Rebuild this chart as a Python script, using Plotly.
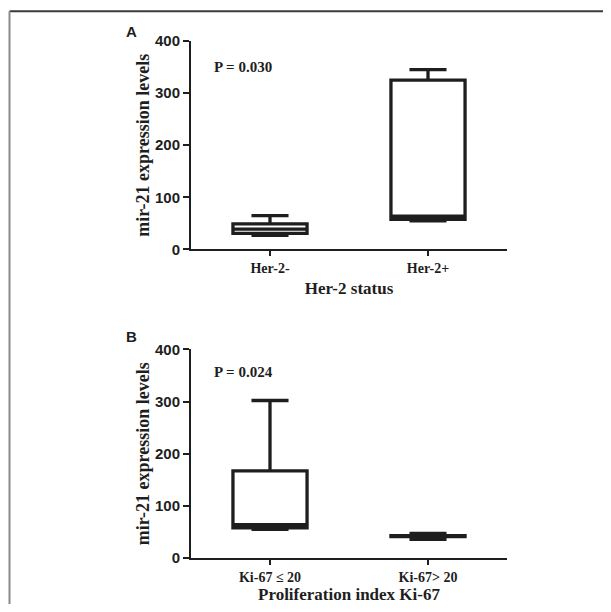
import plotly.graph_objects as go

# ---- data ----
her2_categories = ["Her-2-", "Her-2+"]
her2_lower = [27, 55]
her2_q1 = [31, 58]
her2_median = [39, 64]
her2_q3 = [49, 325]
her2_upper = [65, 345]

ki67_categories = ["Ki-67 \u2264 20", "Ki-67> 20"]
ki67_lower = [55, 36]
ki67_q1 = [58, 41]
ki67_median = [64, 42]
ki67_q3 = [167, 43]
ki67_upper = [302, 47]

y_ticks = [0, 100, 200, 300, 400]
p_values = ["P = 0.030", "P = 0.024"]
panel_labels = ["A", "B"]
x_titles = ["Her-2 status", "Proliferation index Ki-67"]
y_title = "mir-21 expression levels"

# ---- layout geometry (page pixels; the page body has an 8px margin) ----
OFF = 8
W, H = 611 - 2 * OFF, 612 - 2 * OFF
PLOT_L, PLOT_R = 191, 507          # page px of x-axis extent
A_TOP, A_BOT = 40.7, 249.3         # page px of panel A y-range
B_TOP, B_BOT = 349.3, 558.0        # page px of panel B y-range
ML = PLOT_L - OFF
MR = W - (PLOT_R - OFF)
MT = A_TOP - OFF
MB = H - (B_BOT - OFF)
PH = H - MT - MB
PW = W - ML - MR
PANEL_H = A_BOT - A_TOP


def yfrac(py):
    return min(1.0, max(0.0, (B_BOT - py) / PH))


def yfrac_free(py):
    return (B_BOT - py) / PH


def xfrac(px):
    return (px - PLOT_L) / PW


ink = "#1e1e1e"
serif = "Liberation Serif, Times New Roman, serif"
sans = "Liberation Sans, Arial, sans-serif"

fig = go.Figure()

box_style = dict(
    line=dict(color=ink, width=3.3),
    fillcolor="white",
    whiskerwidth=0.5,
    boxpoints=False,
    showlegend=False,
    hoverinfo="skip",
)

fig.add_trace(go.Box(
    x=her2_categories, q1=her2_q1, median=her2_median, q3=her2_q3,
    lowerfence=her2_lower, upperfence=her2_upper,
    xaxis="x", yaxis="y", **box_style))
fig.add_trace(go.Box(
    x=ki67_categories, q1=ki67_q1, median=ki67_median, q3=ki67_q3,
    lowerfence=ki67_lower, upperfence=ki67_upper,
    xaxis="x2", yaxis="y2", **box_style))

yA = [yfrac(A_BOT), yfrac(A_TOP)]
yB = [yfrac(B_BOT), yfrac(B_TOP)]

common_x = dict(
    type="category", range=[-0.5, 1.5], showline=True, linecolor=ink, linewidth=2,
    ticks="outside", ticklen=5, tickwidth=2, tickcolor=ink, showgrid=False,
    zeroline=False, tickfont=dict(family=serif, size=14, color=ink, weight="bold"),
)
common_y = dict(
    range=[0, 400], tickvals=y_ticks, showline=True, linecolor=ink, linewidth=2,
    ticks="outside", ticklen=6, tickwidth=2, tickcolor=ink, showgrid=False,
    zeroline=False, tickfont=dict(family=sans, size=15, color=ink, weight="bold"),
    title=dict(text=y_title, font=dict(family=serif, size=18, color=ink, weight="bold"),
               standoff=1),
)

xtitle_font = dict(family=serif, size=17, color=ink, weight="bold")

fig.update_layout(
    width=W, height=H,
    margin=dict(l=ML, r=MR, t=MT, b=MB, autoexpand=False),
    paper_bgcolor="white", plot_bgcolor="white",
    boxgap=0.33,
    xaxis=dict(domain=[0, 1], anchor="y",
               title=dict(text=x_titles[0], font=xtitle_font, standoff=7),
               **common_x),
    yaxis=dict(domain=yA, anchor="x", **common_y),
    xaxis2=dict(domain=[0, 1], anchor="y2",
                title=dict(text=x_titles[1], font=xtitle_font, standoff=9),
                **common_x),
    yaxis2=dict(domain=yB, anchor="x2", **common_y),
)

# P-value annotations and panel letters
for i, (xr, yr) in enumerate([("x domain", "y domain"), ("x2 domain", "y2 domain")]):
    top_px = A_TOP if i == 0 else B_TOP
    p_center = 66.7 if i == 0 else 371.7
    fig.add_annotation(
        text=p_values[i], xref=xr, yref=yr, x=xfrac(212), y=1 - (p_center - top_px) / PANEL_H,
        xanchor="left", yanchor="middle", showarrow=False,
        font=dict(family=serif, size=15, color=ink, weight="bold"))
    letter_center = 31.5 if i == 0 else 336.7
    fig.add_annotation(
        text=panel_labels[i], xref=xr, yref=yr, x=xfrac(124), y=1 - (letter_center - top_px) / PANEL_H,
        xanchor="left", yanchor="middle", showarrow=False,
        font=dict(family=sans, size=15, color=ink, weight="bold"))

# frame lines (top and left) of the figure panel
fig.add_shape(type="line", xref="paper", yref="paper",
              x0=xfrac(9.5), x1=xfrac(W + OFF + 20), y0=yfrac_free(11), y1=yfrac_free(11),
              line=dict(color="#3a3a3a", width=2))
fig.add_shape(type="line", xref="paper", yref="paper",
              x0=xfrac(9.5), x1=xfrac(9.5), y0=yfrac_free(11), y1=yfrac_free(H + OFF + 20),
              line=dict(color="#8a8a8a", width=2))

fig.write_html("out.html")
